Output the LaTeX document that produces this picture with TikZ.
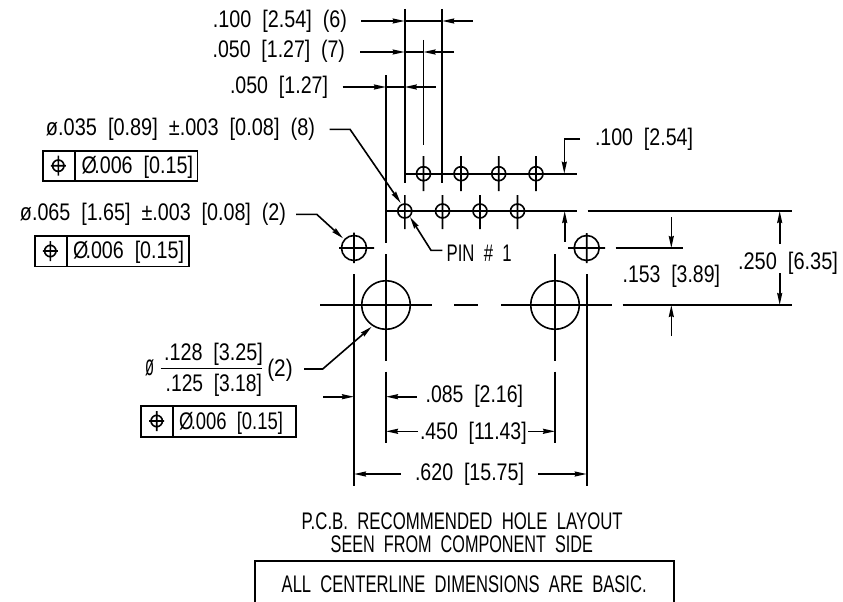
\documentclass[tikz,border=0pt]{standalone}
\usepackage{fontspec}
\usepackage{graphicx}
\setmainfont{Liberation Sans}[WordSpace=2]
\usetikzlibrary{arrows.meta}
\tikzset{
  x=1pt,y=-1pt,
  ln/.style={line width=1.6pt,black},
  dim/.style={ln,-{Stealth[length=12pt,width=5pt,inset=1pt]}},
  lbl/.style={anchor=base,inner sep=0pt,outer sep=0pt,font=\fontsize{24}{24}\selectfont},
  lblb/.style={lbl,font=\fontsize{24}{24}\selectfont},
  lblc/.style={lbl,font=\fontsize{29}{29}\selectfont},
}
% name, left x, right x, baseline y, text
\newcommand\lab[6][lbl]{\node[#1] (#2) at ({(#3+#4)/2},#5) {\resizebox{\dimexpr#4pt-#3pt\relax}{\height}{#6}};}
\newcommand\fcf[7]{% x0 x1 y0 y1 divider symx symy
  \draw[ln] (#1,#3) rectangle (#2,#4) (#5,#3) -- (#5,#4);
  \draw[ln] (#6,#7) circle (5.7pt) ({#6-7.5},#7) -- ({#6+7.5},#7) (#6,{#7-10}) -- (#6,{#7+10});}
\newcommand\DIA{Ø\kern-.14em}
\begin{document}
\begin{tikzpicture}
\useasboundingbox (0,0) rectangle (843,602);
% centre and extension lines
\draw[ln]
  (386,75) -- (386,243) (386,254) -- (386,361) (386,371.7) -- (386,443)
  (555,254) -- (555,361) (555,371.7) -- (555,443)
  (354,274) -- (354,486) (586.7,274) -- (586.7,486)
  (404.7,9) -- (404.7,183) (442.2,9) -- (442.2,183) (423.5,40) -- (423.5,145)
  (404.7,173.7) -- (576.7,173.7)
  (386,211) -- (576.7,211) (587.7,211) -- (792,211)
  (320,305) -- (431.7,305) (454,305) -- (478,305) (501,305) -- (612,305) (622.7,305) -- (792,305)
  (615.7,248) -- (683,248);
% small holes
\foreach \hx in {423.5,461,498.7,536} {\draw[ln] (\hx,173.7) circle (7pt) (\hx,156) -- (\hx,191);}
\foreach \hx in {404.8,442.5,480,517.5} {\draw[ln] (\hx,211) circle (7pt) (\hx,195) -- (\hx,229);}
% mounting holes
\draw[ln] (354,248) circle (12.5pt) (339,248) -- (374,248) (354,232.7) -- (354,263);
\draw[ln] (586.7,248) circle (12.5pt) (568,248) -- (605,248) (586.7,233) -- (586.7,263);
% large holes
\draw[ln] (386,305) circle (24.3pt) (555,305) circle (24.3pt);
% dimension arrows
\draw[dim] (361,21) -- (404.7,21);
\draw[dim] (472.7,21) -- (442.2,21);
\draw[ln] (404.7,21) -- (442.2,21);
\draw[dim] (360,52) -- (404.7,52);
\draw[dim] (454,52) -- (423.5,52);
\draw[ln] (404.7,52) -- (423.5,52);
\draw[dim] (342.7,87) -- (386,87);
\draw[dim] (435.7,87) -- (404.7,87);
\draw[ln] (386,87) -- (404.7,87);
\draw[dim] (329.7,129.3) -- (350,129.3) -- (400.7,203);
\draw[dim] (296,214.3) -- (316.7,214.3) -- (343,238.3);
\draw[dim] (442.3,250.3) -- (431,250.3) -- (410,217);
\draw[dim] (580,139) -- (564.3,139) -- (564.3,173.7);
\draw[dim] (564.7,241.7) -- (564.7,211);
\draw[dim] (671.3,217.3) -- (671.3,248);
\draw[dim] (671.3,336) -- (671.3,305);
\draw[dim] (779.7,244) -- (779.7,211);
\draw[dim] (779.7,273) -- (779.7,305);
\draw[dim] (304,369) -- (322.7,369) -- (371.7,326.7);
\draw[dim] (323,396.7) -- (354,396.7);
\draw[dim] (416.7,396.7) -- (386,396.7);
\draw[dim] (418,431.3) -- (386,431.3);
\draw[dim] (528,431.3) -- (555,431.3);
\draw[dim] (400.7,474) -- (354,474);
\draw[dim] (538,474) -- (586.7,474);
% feature control frames
\fcf{42.7}{197.3}{150.7}{181}{75}{58.3}{165.7}
\fcf{34.7}{189}{235.7}{266.3}{66.7}{50.3}{251}
\fcf{140.7}{295.7}{406}{436.7}{172.7}{156.7}{421}
% fraction bar
\draw[ln] (160.7,368.3) -- (262.3,368.3);
% notes box
\draw[ln] (255,602) -- (255,560.7) -- (674,560.7) -- (674,602);
% labels
\lab{a}{213}{347}{27.5}{.100 [2.54] (6)}
\lab{b}{212.7}{345}{58}{.050 [1.27] (7)}
\lab{c}{230}{328}{93}{.050 [1.27]}
\lab{d}{46}{315}{135}{ø.035 [0.89] ±.003 [0.08] (8)}
\lab{e}{81.7}{193}{173}{\DIA.006 [0.15]}
\lab{f}{20}{286}{220.7}{ø.065 [1.65] ±.003 [0.08] (2)}
\lab{g}{73}{184}{258}{\DIA.006 [0.15]}
\lab{h}{595}{693}{145}{.100 [2.54]}
\lab{i}{446.7}{511.7}{261}{PIN \# 1}
\lab{j}{622.7}{720}{282}{.153 [3.89]}
\lab{k}{738}{838}{269}{.250 [6.35]}
\lab[lblc]{l}{145}{154}{375}{ø}
\lab{m}{164}{263}{360}{.128 [3.25]}
\lab{n}{165.7}{262}{391.7}{.125 [3.18]}
\lab{o}{267.3}{292.7}{376.7}{(2)}
\lab{p}{179}{283}{429}{\DIA.006 [0.15]}
\lab{q}{425.7}{523}{402.7}{.085 [2.16]}
\lab{r}{420}{526.7}{439.3}{.450 [11.43]}
\lab{s}{415}{524}{480}{.620 [15.75]}
\lab[lblb]{t}{301.7}{622.7}{529}{P.C.B. RECOMMENDED HOLE LAYOUT}
\lab[lblb]{u}{330.7}{593}{552.7}{SEEN FROM COMPONENT SIDE}
\lab[lblb]{v}{281.7}{646.7}{592.7}{ALL CENTERLINE DIMENSIONS ARE BASIC.}
\end{tikzpicture}
\end{document}
